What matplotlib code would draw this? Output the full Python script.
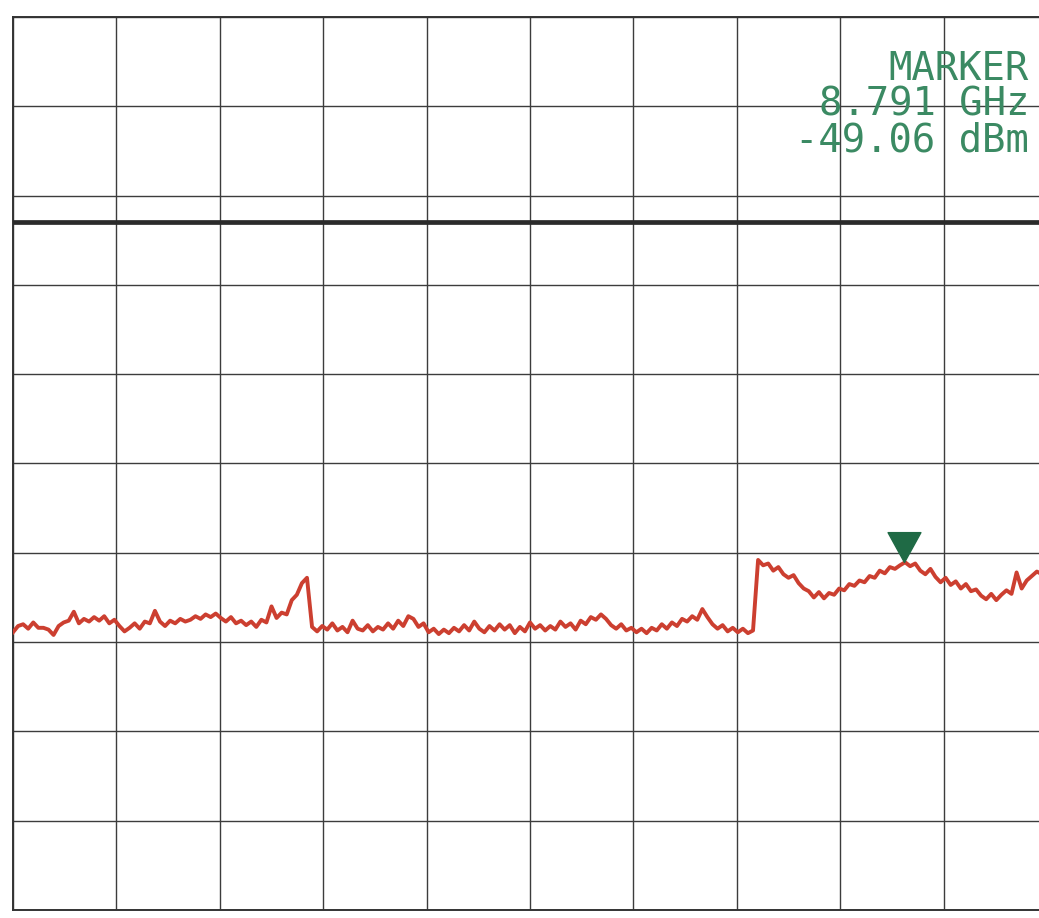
import numpy as np
import matplotlib
matplotlib.use("Agg")
import matplotlib.pyplot as plt

# sweep: 0 - 10.2 GHz, 205 points
freq_ghz = np.linspace(0.0, 10.2, 205)

# trace level, dBm
level_dbm = [
    -56.9, -56.2, -56.0, -56.5, -55.8, -56.4, -56.4, -56.6, -57.2, -56.2,
    -55.8, -55.6, -54.6, -55.9, -55.4, -55.7, -55.2, -55.6, -55.1, -55.9,
    -55.5, -56.2, -56.8, -56.4, -55.9, -56.5, -55.7, -55.9, -54.5, -55.7,
    -56.2, -55.6, -55.9, -55.4, -55.7, -55.5, -55.1, -55.4, -54.9, -55.2,
    -54.8, -55.3, -55.7, -55.2, -55.9, -55.6, -56.1, -55.7, -56.3, -55.5,
    -55.8, -54.0, -55.3, -54.7, -54.9, -53.3, -52.7, -51.4, -50.8, -56.3,
    -56.8, -56.2, -56.6, -55.9, -56.7, -56.3, -56.9, -55.6, -56.5, -56.7,
    -56.1, -56.8, -56.3, -56.6, -55.9, -56.5, -55.6, -56.2, -55.1, -55.4,
    -56.3, -55.9, -56.9, -56.5, -57.1, -56.6, -57.0, -56.4, -56.8, -56.1,
    -56.7, -55.7, -56.5, -56.9, -56.2, -56.7, -56.0, -56.6, -56.1, -57.0,
    -56.3, -56.8, -55.8, -56.5, -56.1, -56.7, -56.2, -56.6, -55.7, -56.3,
    -55.9, -56.6, -55.6, -56.0, -55.2, -55.5, -54.9, -55.4, -56.1, -56.5,
    -56.0, -56.7, -56.4, -56.9, -56.5, -57.0, -56.4, -56.7, -56.0, -56.5,
    -55.8, -56.2, -55.4, -55.7, -55.1, -55.5, -54.3, -55.2, -56.0, -56.5,
    -56.1, -56.8, -56.4, -56.9, -56.5, -57.0, -56.7, -48.8, -49.4, -49.2,
    -50.0, -49.6, -50.4, -50.8, -50.5, -51.4, -52.0, -52.3, -53.0, -52.4,
    -53.1, -52.5, -52.7, -52.0, -52.2, -51.5, -51.7, -51.1, -51.3, -50.6,
    -50.8, -50.0, -50.3, -49.6, -49.8, -49.4, -49.06, -49.5, -49.2, -50.0,
    -50.4, -49.8, -50.7, -51.3, -50.8, -51.6, -51.2, -52.0, -51.5, -52.3,
    -52.1, -52.8, -53.2, -52.6, -53.3, -52.7, -52.2, -52.6, -50.2, -52.0,
    -51.1, -50.6, -50.1, -50.4, -50.0,
]

marker_ghz = 8.791
marker_dbm = -49.06
display_line_dbm = -11.0

ref_level = 12.0
db_per_div = 10.0
ghz_per_div = 1.02

W, H = 1039, 918
fig = plt.figure(figsize=(W / 100, H / 100), dpi=100)
fig.patch.set_facecolor("white")

# graticule spans 10x10 divisions, right edge runs a little past the sheet
left_px, top_px, right_px, bottom_px = 13, 17, 1047, 910
ax = fig.add_axes([left_px / W, (H - bottom_px) / H,
                   (right_px - left_px) / W, (bottom_px - top_px) / H])
ax.set_xlim(0, 10 * ghz_per_div)
ax.set_ylim(ref_level - 10 * db_per_div, ref_level)
ax.set_xticks(np.arange(11) * ghz_per_div)
ax.set_yticks(ref_level - np.arange(11) * db_per_div)
ax.tick_params(length=0, labelleft=False, labelbottom=False)
ax.grid(True, color="#3c3c3c", lw=1.0)
for s in ax.spines.values():
    s.set_color("#333333")
    s.set_linewidth(1.4)

# display line
ax.axhline(display_line_dbm, color="#2b2b2b", lw=3.4, zorder=3)

# trace
ax.plot(freq_ghz, level_dbm, color="#cc3f30", lw=2.8, zorder=4)

# marker triangle, tip sitting on the marked point
tri = [(0, 0), (-0.55, 1), (0.55, 1), (0, 0)]
ax.plot([marker_ghz], [marker_dbm], marker=tri, markersize=43,
        color="#1f6a45", zorder=5, clip_on=False)

# marker readout as one right-aligned block
readout = f"MARKER\n{marker_ghz:.3f} GHz\n{marker_dbm:.2f} dBm"
fig.text(1029 / W, 1 - 50 / H, readout, ha="right", va="top",
         multialignment="right", linespacing=0.92, color="#3b8a63",
         fontsize=28, family="DejaVu Sans Mono")

fig.savefig("out.png", dpi=100)
